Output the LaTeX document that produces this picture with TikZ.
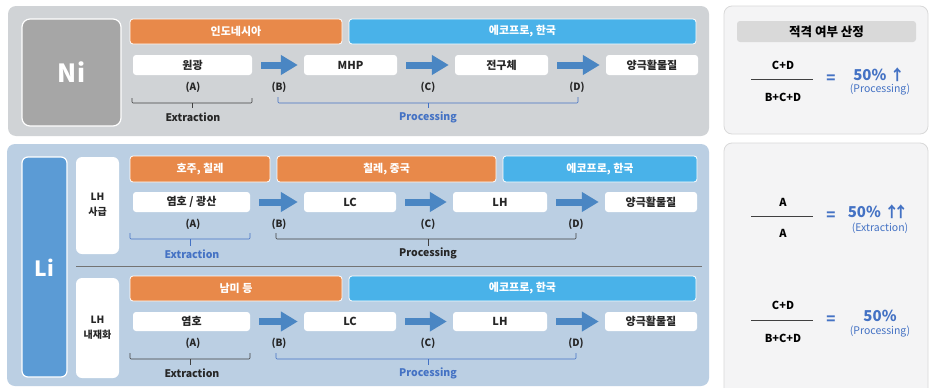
\documentclass[tikz,border=0pt]{standalone}
\usepackage{fontspec}
\setmainfont{Noto Sans CJK KR}
\usetikzlibrary{arrows.meta}
\definecolor{nibg}{HTML}{D0D3D6}
\definecolor{nibox}{HTML}{A6A6A6}
\definecolor{orangebar}{HTML}{E8894A}
\definecolor{bluebar}{HTML}{49B2E9}
\definecolor{arrowblue}{HTML}{4A86C3}
\definecolor{libg}{HTML}{BBCFE3}
\definecolor{libox}{HTML}{5B9BD5}
\definecolor{rightbg}{HTML}{F4F4F5}
\definecolor{rightline}{HTML}{D9D9D9}
\definecolor{headgray}{HTML}{D9D9D9}
\definecolor{txtblue}{HTML}{4472C4}
\definecolor{bracedark}{HTML}{404040}
\definecolor{txtdark}{HTML}{262626}
\begin{document}
\begin{tikzpicture}[x=1pt,y=-1pt,
  bar/.style={rectangle, rounded corners=3pt, draw=white, line width=0.8pt, inner sep=0pt,
    text=white, font=\bfseries\fontsize{11}{13}\selectfont},
  obar/.style={bar, fill=orangebar},
  bbar/.style={bar, fill=bluebar},
  wbox/.style={rectangle, rounded corners=3pt, fill=white, inner sep=0pt, text=txtdark,
    font=\bfseries\fontsize{11}{13}\selectfont},
  lbl/.style={inner sep=0pt, text=txtdark, font=\bfseries\fontsize{10}{12}\selectfont},
  braceblk/.style={draw=bracedark, line width=0.6pt, rounded corners=1pt},
  braceblu/.style={draw=txtblue, line width=0.6pt, rounded corners=1pt},
  blkname/.style={inner sep=0pt, text=txtdark, font=\bfseries\fontsize{10.5}{12}\selectfont},
  bluname/.style={inner sep=0pt, text=txtblue, font=\bfseries\fontsize{10.5}{12}\selectfont},
  barrow/.style={draw=arrowblue, line width=7pt, shorten <=9pt, shorten >=6pt,
    -{Triangle[length=17pt,width=19pt]}},
  frac/.style={inner sep=0pt, text=black, font=\bfseries\fontsize{11}{13}\selectfont},
  eqs/.style={inner sep=0pt, text=txtblue, font=\bfseries\fontsize{15}{17}\selectfont},
  pct/.style={inner sep=0pt, text=txtblue, font=\bfseries\fontsize{15}{17}\selectfont},
  sub/.style={inner sep=0pt, text=txtblue, font=\fontsize{10.5}{12}\selectfont},
  side/.style={inner sep=0pt, text=txtdark, align=center, font=\bfseries\fontsize{10}{15}\selectfont}
]
\useasboundingbox (0,0) rectangle (934,388);
\fill[white] (0,0) rectangle (934,388);

% ================= Ni panel =================
\fill[nibg, rounded corners=8pt] (8,6) rectangle (709,136);
\filldraw[fill=nibox, draw=white, line width=1.2pt, rounded corners=8pt] (22,19) rectangle (121,126);
\node[inner sep=0pt, text=white, font=\bfseries\fontsize{25}{28}\selectfont] (ni) at (71.5,72.5) {Ni};

\node[obar, minimum width=212pt, minimum height=25pt] (nio) at (236,31.5) {인도네시아};
\node[bbar, minimum width=347pt, minimum height=25pt] (nib) at (522.5,31.5) {에코프로, 한국};

\node[wbox, minimum width=119pt, minimum height=20pt] (n1) at (192.5,65) {원광};
\node[wbox, minimum width=93pt, minimum height=20pt] (n2) at (350.5,65) {MHP};
\node[wbox, minimum width=93pt, minimum height=20pt] (n3) at (501.5,65) {전구체};
\node[wbox, minimum width=92pt, minimum height=20pt] (n4) at (652,65) {양극활물질};
\draw[barrow] (n1) -- (n2);
\draw[barrow] (n2) -- (n3);
\draw[barrow] (n3) -- (n4);

\node[lbl] (nA) at (193,87) {(A)};
\node[lbl] (nB) at (279,87) {(B)};
\node[lbl] (nC) at (428,87) {(C)};
\node[lbl] (nD) at (577,87) {(D)};

\draw[braceblk] (132,98) -- (132,103) -- (252,103) -- (252,98);
\draw[braceblk] (192,103) -- (192,108);
\node[blkname] (nex) at (193,117) {Extraction};
\draw[braceblu] (278,97) -- (278,103) -- (578,103) -- (578,97);
\draw[braceblu] (428,103) -- (428,108);
\node[bluname] (npr) at (428,117) {Processing};

% ================= Li panel =================
\fill[libg, rounded corners=8pt] (7,144) rectangle (709,386);
\filldraw[fill=libox, draw=white, line width=1.2pt, rounded corners=6pt] (22,157) rectangle (67,377);
\node[inner sep=0pt, text=white, font=\bfseries\fontsize{21}{24}\selectfont] (li) at (44.5,268) {Li};

\fill[white, rounded corners=6pt] (76,157) rectangle (119,254);
\node[side] (lh1) at (97.5,205) {LH\\사급};
\fill[white, rounded corners=6pt] (76,278) rectangle (119,378);
\node[side] (lh2) at (97.5,328) {LH\\내재화};
\draw[draw=gray!90!black, line width=1pt] (76,266) -- (702,266);

% upper row
\node[obar, minimum width=140pt, minimum height=26pt] (uo1) at (200,169) {호주, 칠레};
\node[obar, minimum width=219pt, minimum height=26pt] (uo2) at (386.5,169) {칠레, 중국};
\node[bbar, minimum width=194pt, minimum height=26pt] (ub) at (600,169) {에코프로, 한국};

\node[wbox, minimum width=117pt, minimum height=20pt] (u1) at (191.5,202) {염호 / 광산};
\node[wbox, minimum width=92pt, minimum height=20pt] (u2) at (350,202) {LC};
\node[wbox, minimum width=94pt, minimum height=20pt] (u3) at (500,202) {LH};
\node[wbox, minimum width=92pt, minimum height=20pt] (u4) at (651,202) {양극활물질};
\draw[barrow] (u1) -- (u2);
\draw[barrow] (u2) -- (u3);
\draw[barrow] (u3) -- (u4);

\node[lbl] (uA) at (193,224) {(A)};
\node[lbl] (uB) at (279,224) {(B)};
\node[lbl] (uC) at (428,224) {(C)};
\node[lbl] (uD) at (576,224) {(D)};

\draw[braceblu] (130,233) -- (130,239) -- (250,239) -- (250,233);
\draw[braceblu] (190,239) -- (190,246);
\node[bluname] (uex) at (192,254) {Extraction};
\draw[braceblk] (276,233) -- (276,239) -- (576,239) -- (576,233);
\draw[braceblk] (428,239) -- (428,246);
\node[blkname] (upr) at (428,253) {Processing};

% lower row
\node[obar, minimum width=212pt, minimum height=25pt] (lo) at (236,288.5) {남미 등};
\node[bbar, minimum width=347pt, minimum height=25pt] (lb) at (522.5,288.5) {에코프로, 한국};

\node[wbox, minimum width=117pt, minimum height=19pt] (l1) at (191.5,321.5) {염호};
\node[wbox, minimum width=92pt, minimum height=19pt] (l2) at (350,321.5) {LC};
\node[wbox, minimum width=94pt, minimum height=19pt] (l3) at (500,321.5) {LH};
\node[wbox, minimum width=92pt, minimum height=19pt] (l4) at (651,321.5) {양극활물질};
\draw[barrow] (l1) -- (l2);
\draw[barrow] (l2) -- (l3);
\draw[barrow] (l3) -- (l4);

\node[lbl] (lA) at (193,343) {(A)};
\node[lbl] (lB) at (279,343) {(B)};
\node[lbl] (lC) at (428,343) {(C)};
\node[lbl] (lD) at (576,343) {(D)};

\draw[braceblk] (130,353) -- (130,359) -- (250,359) -- (250,353);
\draw[braceblk] (190,359) -- (190,365);
\node[blkname] (lex) at (192,373) {Extraction};
\draw[braceblu] (276,353) -- (276,359) -- (576,359) -- (576,353);
\draw[braceblu] (428,359) -- (428,365);
\node[bluname] (lpr) at (428,373) {Processing};

% ================= right panels =================
\filldraw[fill=rightbg, draw=rightline, line width=0.8pt, rounded corners=8pt] (724,6) rectangle (928,134);
\fill[headgray, rounded corners=3pt] (737,21) rectangle (916,42);
\node[inner sep=0pt, text=black, font=\bfseries\fontsize{12.5}{14}\selectfont] (head) at (826.5,31.5) {적격 여부 산정};

\node[frac] (f1n) at (783,65) {C+D};
\draw[bracedark, line width=0.8pt] (751,79) -- (813,79);
\node[frac] (f1d) at (783,97) {B+C+D};
\node[eqs] (f1e) at (831,79) {=};
\node[pct] (f1p) at (879,75) {50\% ↑};
\node[sub] (f1s) at (880,90) {(Processing)};

\filldraw[fill=rightbg, draw=rightline, line width=0.8pt, rounded corners=8pt] (724,143) rectangle (928,400);
\node[frac] (f2n) at (783,202) {A};
\draw[bracedark, line width=0.8pt] (751,216) -- (813,216);
\node[frac] (f2d) at (783,233) {A};
\node[eqs] (f2e) at (831,216) {=};
\node[pct] (f2p) at (878,212) {50\% ↑\kern-0.4em↑};
\node[sub] (f2s) at (880,228) {(Extraction)};

\node[frac] (f3n) at (783,305) {C+D};
\draw[bracedark, line width=0.8pt] (751,320) -- (813,320);
\node[frac] (f3d) at (783,338) {B+C+D};
\node[eqs] (f3e) at (831,320) {=};
\node[pct] (f3p) at (880,316) {50\%};
\node[sub] (f3s) at (880,332) {(Processing)};
\end{tikzpicture}
\end{document}
